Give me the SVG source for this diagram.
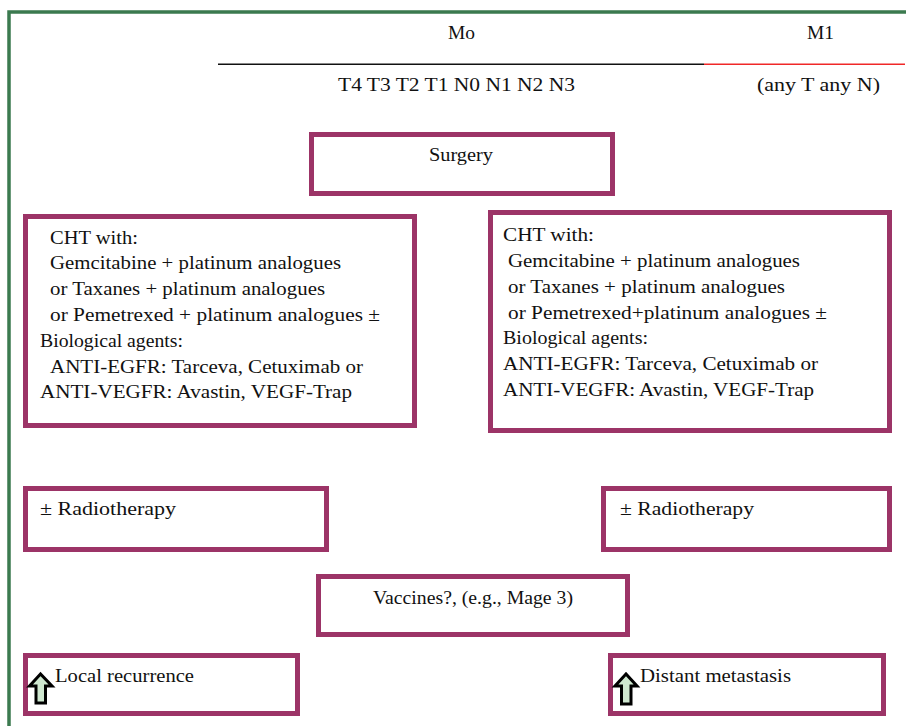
<svg xmlns="http://www.w3.org/2000/svg" width="906" height="726" viewBox="0 0 906 726">
<style>
.box{fill:#fff;stroke:#9c3467;stroke-width:5}
.t{font-family:'Liberation Serif','Times New Roman',serif;font-size:18px;fill:#111}
.arr{fill:#cfe8d0;stroke:#000;stroke-width:3;stroke-linejoin:miter}
</style>
<rect width="906" height="726" fill="#fff"/>
<g id="frame">
<path d="M9 726 V12 H906" fill="none" stroke="#3b7a4f" stroke-width="3.5"/>
</g>
<g id="header">
<line x1="218" y1="64.3" x2="704" y2="64.3" stroke="#111" stroke-width="1.6"/>
<line x1="704" y1="64.3" x2="905" y2="64.3" stroke="#f02828" stroke-width="1.6"/>
<text class="t" x="448" y="39" textLength="27" lengthAdjust="spacingAndGlyphs">Mo</text>
<text class="t" x="807" y="39" textLength="27" lengthAdjust="spacingAndGlyphs">M1</text>
<text class="t" x="338" y="91" textLength="237" lengthAdjust="spacingAndGlyphs">T4 T3 T2 T1 N0 N1 N2 N3</text>
<text class="t" x="757" y="91" textLength="123" lengthAdjust="spacingAndGlyphs">(any T any N)</text>
</g>
<g id="surgery">
<rect class="box" x="311.5" y="134.5" width="301" height="59"/>
<text class="t" x="429" y="161" textLength="64" lengthAdjust="spacingAndGlyphs">Surgery</text>
</g>
<g id="cht-left">
<rect class="box" x="25.5" y="216.5" width="389" height="209"/>
<text class="t" x="50" y="244" textLength="88" lengthAdjust="spacingAndGlyphs">CHT with:</text>
<text class="t" x="50" y="269" textLength="291" lengthAdjust="spacingAndGlyphs">Gemcitabine + platinum analogues</text>
<text class="t" x="50" y="295" textLength="275" lengthAdjust="spacingAndGlyphs">or Taxanes + platinum analogues</text>
<text class="t" x="50" y="321" textLength="330" lengthAdjust="spacingAndGlyphs">or Pemetrexed + platinum analogues ±</text>
<text class="t" x="40" y="347" textLength="143" lengthAdjust="spacingAndGlyphs">Biological agents:</text>
<text class="t" x="50" y="373" textLength="313" lengthAdjust="spacingAndGlyphs">ANTI-EGFR: Tarceva, Cetuximab or</text>
<text class="t" x="40" y="398" textLength="312" lengthAdjust="spacingAndGlyphs">ANTI-VEGFR: Avastin, VEGF-Trap</text>
</g>
<g id="cht-right">
<rect class="box" x="490.5" y="212.5" width="399" height="218"/>
<text class="t" x="503" y="241" textLength="91" lengthAdjust="spacingAndGlyphs">CHT with:</text>
<text class="t" x="508" y="267" textLength="292" lengthAdjust="spacingAndGlyphs">Gemcitabine + platinum analogues</text>
<text class="t" x="508" y="293" textLength="277" lengthAdjust="spacingAndGlyphs">or Taxanes + platinum analogues</text>
<text class="t" x="508" y="319" textLength="319" lengthAdjust="spacingAndGlyphs">or Pemetrexed+platinum analogues ±</text>
<text class="t" x="503" y="344" textLength="145" lengthAdjust="spacingAndGlyphs">Biological agents:</text>
<text class="t" x="503" y="370" textLength="315" lengthAdjust="spacingAndGlyphs">ANTI-EGFR: Tarceva, Cetuximab or</text>
<text class="t" x="503" y="396" textLength="311" lengthAdjust="spacingAndGlyphs">ANTI-VEGFR: Avastin, VEGF-Trap</text>
</g>
<g id="radio-left">
<rect class="box" x="25.5" y="488.5" width="301" height="61"/>
<text class="t" x="40" y="515" textLength="136" lengthAdjust="spacingAndGlyphs">± Radiotherapy</text>
</g>
<g id="radio-right">
<rect class="box" x="603.5" y="488.5" width="286" height="61"/>
<text class="t" x="620" y="515" textLength="134" lengthAdjust="spacingAndGlyphs">± Radiotherapy</text>
</g>
<g id="vaccines">
<rect class="box" x="318.5" y="576.5" width="309" height="58"/>
<text class="t" x="373" y="604" textLength="200" lengthAdjust="spacingAndGlyphs">Vaccines?, (e.g., Mage 3)</text>
</g>
<g id="local">
<rect class="box" x="25.5" y="655.5" width="272" height="58"/>
<polygon class="arr" points="40.5,674 29.5,686 36,686 36,703 45.5,703 45.5,686 52,686"/>
<text class="t" x="55" y="682" textLength="139" lengthAdjust="spacingAndGlyphs">Local recurrence</text>
</g>
<g id="distant">
<rect class="box" x="610.5" y="655.5" width="273" height="58"/>
<polygon class="arr" points="626,674 615,686 621.5,686 621.5,704 631,704 631,686 637,686"/>
<text class="t" x="640" y="682" textLength="151" lengthAdjust="spacingAndGlyphs">Distant metastasis</text>
</g>
<g id="connectors"></g>
</svg>
